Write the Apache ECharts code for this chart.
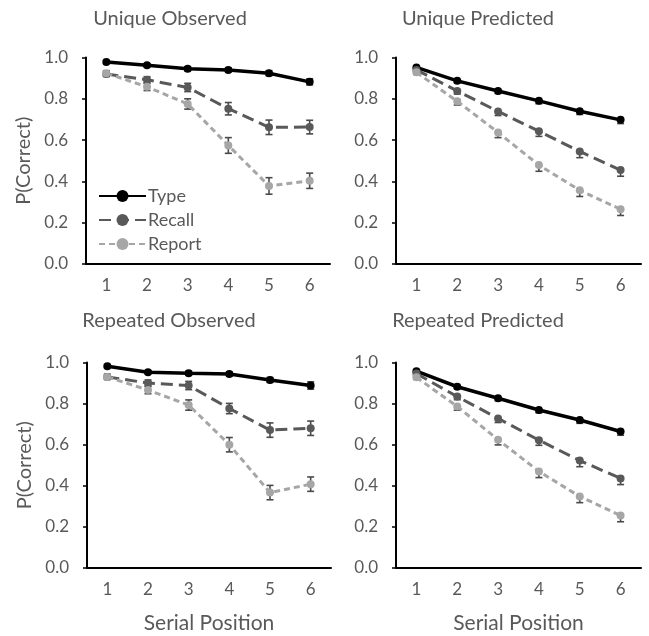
<!DOCTYPE html>
<html>
<head>
<meta charset="utf-8">
<script src="https://cdn.jsdelivr.net/npm/echarts@6/dist/echarts.min.js"></script>
<style>
  html, body { margin: 0; padding: 0; background: #ffffff; }
  #chart { width: 649px; height: 636px; }
</style>
</head>
<body>
<div id="chart"></div>
<script>
// Serial position categories
const positions = ['1', '2', '3', '4', '5', '6'];
const yTicks = [0, 0.2, 0.4, 0.6, 0.8, 1.0];

// Unique Observed
const uoType   = [0.978, 0.962, 0.945, 0.940, 0.924, 0.882];
const uoRecall = [0.920, 0.892, 0.855, 0.752, 0.662, 0.663];
const uoReport = [0.924, 0.858, 0.775, 0.574, 0.378, 0.403];
const uoTypeErr   = [0.008, 0.008, 0.010, 0.010, 0.012, 0.015];
const uoRecallErr = [0.012, 0.015, 0.020, 0.030, 0.035, 0.033];
const uoReportErr = [0.012, 0.018, 0.025, 0.038, 0.040, 0.037];

// Unique Predicted
const upType   = [0.952, 0.887, 0.838, 0.790, 0.740, 0.698];
const upRecall = [0.940, 0.838, 0.739, 0.643, 0.545, 0.455];
const upReport = [0.928, 0.788, 0.637, 0.479, 0.357, 0.265];
const upTypeErr   = [0.008, 0.010, 0.012, 0.014, 0.016, 0.018];
const upRecallErr = [0.010, 0.015, 0.020, 0.025, 0.030, 0.030];
const upReportErr = [0.010, 0.018, 0.025, 0.030, 0.030, 0.030];

// Repeated Observed
const roType   = [0.982, 0.953, 0.948, 0.944, 0.915, 0.888];
const roRecall = [0.930, 0.900, 0.888, 0.776, 0.671, 0.680];
const roReport = [0.930, 0.866, 0.793, 0.600, 0.367, 0.408];
const roTypeErr   = [0.008, 0.008, 0.010, 0.010, 0.012, 0.018];
const roRecallErr = [0.012, 0.015, 0.020, 0.025, 0.035, 0.035];
const roReportErr = [0.012, 0.018, 0.025, 0.035, 0.035, 0.035];

// Repeated Predicted
const rpType   = [0.958, 0.882, 0.826, 0.769, 0.720, 0.664];
const rpRecall = [0.946, 0.834, 0.728, 0.622, 0.523, 0.436];
const rpReport = [0.928, 0.786, 0.624, 0.470, 0.348, 0.255];
const rpTypeErr   = [0.008, 0.010, 0.012, 0.014, 0.016, 0.018];
const rpRecallErr = [0.010, 0.015, 0.020, 0.025, 0.030, 0.030];
const rpReportErr = [0.010, 0.018, 0.025, 0.030, 0.030, 0.030];

const panelTitles = ['Unique Observed', 'Unique Predicted', 'Repeated Observed', 'Repeated Predicted'];
const seriesNames = ['Type', 'Recall', 'Report'];

const FONT = 'Lato, "Open Sans", sans-serif';
const TEXT = '#595959';
const lineColors = ['#000000', '#595959', '#a6a6a6'];
const lineDashes = ['solid', [12, 6], [6, 4]];
const lineWidths = [3.5, 3, 3];
const ERR_COLOR = '#4a4a4a';

const panels = [
  { vals: [uoType, uoRecall, uoReport], errs: [uoTypeErr, uoRecallErr, uoReportErr], both: true },
  { vals: [upType, upRecall, upReport], errs: [upTypeErr, upRecallErr, upReportErr], both: false },
  { vals: [roType, roRecall, roReport], errs: [roTypeErr, roRecallErr, roReportErr], both: true },
  { vals: [rpType, rpRecall, rpReport], errs: [rpTypeErr, rpRecallErr, rpReportErr], both: false }
];

const grids = [
  { left: 86,  top: 57.5,  width: 244, height: 206.5 },
  { left: 396, top: 57.5,  width: 245, height: 206.5 },
  { left: 87,  top: 362.5, width: 244, height: 205.5 },
  { left: 396, top: 362.5, width: 245, height: 205.5 }
];
const titleCenters = [
  { x: 170, y: 9 },
  { x: 478, y: 9 },
  { x: 169, y: 311 },
  { x: 478, y: 311 }
];

const xAxes = grids.map((g, i) => ({
  type: 'category',
  gridIndex: i,
  data: positions,
  boundaryGap: true,
  name: i >= 2 ? 'Serial Position' : '',
  nameLocation: 'middle',
  nameGap: 45,
  nameTextStyle: { fontFamily: FONT, fontSize: 21, color: TEXT },
  axisLine: { lineStyle: { color: '#000', width: 2 } },
  axisTick: { alignWithLabel: true, inside: true, length: 4, lineStyle: { color: '#000', width: 1.5 } },
  axisLabel: { fontFamily: FONT, fontSize: 17, color: TEXT, margin: 13 },
  splitLine: { show: false }
}));

const yAxes = grids.map((g, i) => ({
  type: 'value',
  gridIndex: i,
  min: yTicks[0],
  max: yTicks[yTicks.length - 1],
  interval: 0.2,
  name: i % 2 === 0 ? 'P(Correct)' : '',
  nameLocation: 'middle',
  nameGap: 52,
  nameTextStyle: { fontFamily: FONT, fontSize: 20, color: TEXT },
  axisLine: { show: true, lineStyle: { color: '#000', width: 2 } },
  axisTick: { show: true, inside: false, length: 4, lineStyle: { color: '#000', width: 1.5 } },
  axisLabel: { fontFamily: FONT, fontSize: 17, color: TEXT, margin: 18, formatter: v => v.toFixed(1) },
  splitLine: { show: false }
}));

const series = [];
panels.forEach((p, pi) => {
  p.vals.forEach((vals, si) => {
    const errs = p.errs[si];
    // error bars, drawn under the lines and markers
    series.push({
      type: 'custom',
      xAxisIndex: pi,
      yAxisIndex: pi,
      z: 1,
      silent: true,
      data: vals.map((v, k) => [k, v, errs[k]]),
      renderItem: (params, api) => {
        const x = api.value(0);
        const y = api.value(1);
        const e = api.value(2);
        const hi = api.coord([x, p.both ? y + e : y]);
        const lo = api.coord([x, y - e]);
        const cap = 3.5;
        const children = [
          { type: 'line', shape: { x1: hi[0], y1: hi[1], x2: lo[0], y2: lo[1] } },
          { type: 'line', shape: { x1: lo[0] - cap, y1: lo[1], x2: lo[0] + cap, y2: lo[1] } }
        ];
        if (p.both) {
          children.push({ type: 'line', shape: { x1: hi[0] - cap, y1: hi[1], x2: hi[0] + cap, y2: hi[1] } });
        }
        children.forEach(c => { c.style = { stroke: ERR_COLOR, lineWidth: 1.6 }; });
        return { type: 'group', children };
      }
    });
    series.push({
      type: 'line',
      name: seriesNames[si],
      xAxisIndex: pi,
      yAxisIndex: pi,
      z: 2,
      data: vals,
      symbol: 'circle',
      symbolSize: 8,
      showSymbol: true,
      itemStyle: { color: lineColors[si], borderWidth: 0 },
      lineStyle: { color: lineColors[si], width: lineWidths[si], type: lineDashes[si] },
      emphasis: { disabled: true },
      animation: false
    });
  });
});

const option = {
  animation: false,
  backgroundColor: '#ffffff',
  title: panelTitles.map((t, i) => ({
    text: t,
    left: titleCenters[i].x,
    top: titleCenters[i].y,
    textAlign: 'center',
    padding: 0,
    textStyle: { fontFamily: FONT, fontSize: 20, fontWeight: 'normal', color: TEXT }
  })),
  legend: {
    data: seriesNames,
    orient: 'vertical',
    left: 98,
    top: 187,
    itemWidth: 47,
    itemHeight: 15,
    itemGap: 6,
    padding: 0,
    textStyle: { fontFamily: FONT, fontSize: 18, color: TEXT, padding: [0, 0, 0, -3] },
    selectedMode: false
  },
  grid: grids.map(g => Object.assign({ containLabel: false }, g)),
  xAxis: xAxes,
  yAxis: yAxes,
  series
};

const chart = echarts.init(document.getElementById('chart'), null, { renderer: 'canvas' });
chart.setOption(option);
</script>
</body>
</html>
